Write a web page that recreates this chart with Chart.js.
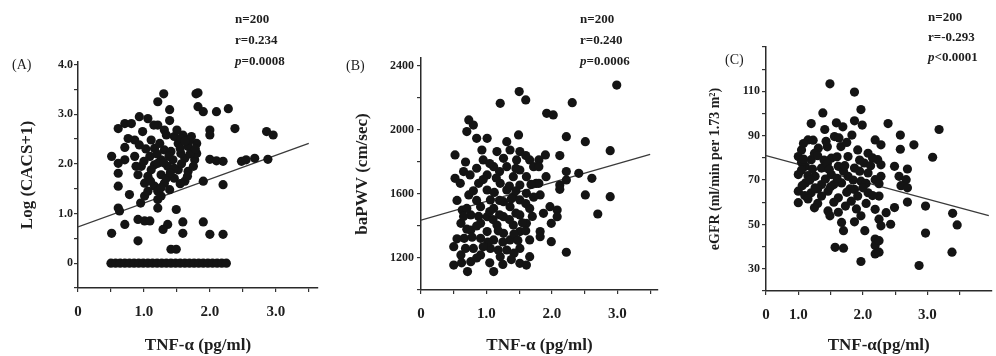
<!DOCTYPE html>
<html lang="en">
<head>
<meta charset="UTF-8">
<title>TNF-α correlations</title>
<script src="https://cdn.jsdelivr.net/npm/chart.js"></script>
<style>
    body { margin: 0; background: #fff; }
    #wrap { position: relative; width: 996px; height: 356px; overflow: hidden;
            font-family: 'Liberation Serif', 'DejaVu Serif', serif; color: #1e1e1e; }
    .panel { position: absolute; top: 0; }
    .stats { position: absolute; font-weight: bold; font-size: 13px; line-height: 21px; white-space: nowrap; }
    .tag { position: absolute; font-size: 14px; line-height: 16px; }
</style>
</head>
<body>
<div id="wrap">
    <canvas id="chartA" class="panel" style="left:0" width="332" height="356"></canvas>
    <canvas id="chartB" class="panel" style="left:332px" width="332" height="356"></canvas>
    <canvas id="chartC" class="panel" style="left:664px" width="332" height="356"></canvas>

    <div class="tag" style="left:12px; top:57px">(A)</div>
    <div class="tag" style="left:346px; top:58px">(B)</div>
    <div class="tag" style="left:725px; top:52px">(C)</div>

    <div class="stats" style="left:235px; top:8px">n=200<br>r=0.234<br><i>p</i>=0.0008</div>
    <div class="stats" style="left:580px; top:8px">n=200<br>r=0.240<br><i>p</i>=0.0006</div>
    <div class="stats" style="left:928px; top:7px; line-height:20px">n=200<br>r=-0.293<br><i>p</i>&lt;0.0001</div>
</div>

<script>
// (A) Log (CACS+1) vs TNF-alpha
const aX = [1.30,1.21,1.39,1.79,0.93,1.06,0.71,0.61,0.81,1.21,
    1.39,0.98,1.31,0.86,0.76,1.11,1.46,1.59,1.72,0.71,
    0.93,1.16,1.31,1.52,1.67,0.51,0.71,1.09,1.26,1.44,
    1.62,1.77,0.61,0.96,1.16,1.36,1.52,1.67,0.61,0.91,
    1.06,1.26,1.46,1.01,1.16,1.31,1.62,0.61,1.21,1.39,
    0.78,1.01,1.21,1.26,0.61,0.63,1.21,1.49,0.91,1.01,
    1.09,0.71,1.59,1.36,1.29,0.51,1.59,0.91,1.41,1.49,
    1.82,1.82,1.90,2.10,2.28,2.00,2.00,2.38,2.86,2.96,
    1.80,1.80,2.00,2.10,2.20,2.48,2.55,2.68,2.88,1.90,
    2.20,1.90,2.00,2.20,
    1.41,1.56,1.46,1.11,1.56,1.69,1.24,0.86,1.21,1.34,0.95,1.66,
    1.03,1.20,1.38,1.55,1.70,1.00,1.30,1.57,1.75,1.10,
    1.40,1.55,1.26,1.06,1.50,1.62,1.78,0.88,1.34,1.15,
    0.50,0.57,0.64,0.71,0.78,0.85,0.92,0.99,1.06,1.13,
    1.20,1.27,1.34,1.41,1.48,1.55,1.62,1.69,1.76,1.83,
    1.90,1.97,2.04,2.11,2.18,2.25];
const aY = [3.41,3.25,3.09,3.41,2.95,2.91,2.81,2.71,2.81,2.78,
    2.87,2.65,2.68,2.48,2.51,2.48,2.55,2.58,2.55,2.33,
    2.38,2.31,2.28,2.41,2.35,2.15,2.08,2.15,2.08,2.08,
    2.11,2.08,2.01,1.95,1.98,1.95,1.88,1.85,1.81,1.78,
    1.75,1.78,1.71,1.61,1.55,1.61,1.65,1.55,1.45,1.48,
    1.38,1.35,1.28,1.35,1.11,1.05,1.11,1.08,0.88,0.85,
    0.85,0.78,0.83,0.78,0.68,0.60,0.60,0.45,0.28,0.28,
    3.43,3.15,3.05,3.05,3.11,2.68,2.58,2.71,2.65,2.58,
    2.41,2.21,2.09,2.06,2.05,2.05,2.08,2.11,2.09,1.65,
    1.58,0.83,0.58,0.58,
    2.25,2.21,1.91,1.88,2.51,2.48,2.41,2.15,2.01,1.71,1.21,1.75,
    2.30,2.20,2.15,2.31,2.20,2.05,2.02,2.00,1.95,1.65,
    1.82,1.60,1.52,1.45,2.68,2.45,2.30,1.95,2.58,2.78,
    0,0,0,0,0,0,0,0,0,0,
    0,0,0,0,0,0,0,0,0,0,
    0,0,0,0,0,0];
const aFitX = [0, 3.5];
const aFitY = [0.73, 2.41];

// (B) baPWV vs TNF-alpha
const bX = [1.50,1.60,1.21,0.73,0.80,0.70,0.85,1.01,1.49,1.31,
    0.93,1.16,1.36,1.51,0.52,0.95,1.26,1.46,1.66,0.85,
    1.11,1.31,1.51,1.72,0.75,1.01,1.41,1.61,0.52,0.60,
    0.88,1.21,1.51,1.76,1.01,1.31,0.73,1.61,1.41,1.06,
    1.26,1.51,0.63,0.91,1.11,1.36,1.66,0.76,1.01,1.26,
    1.51,0.61,0.91,1.16,1.41,1.61,0.76,1.01,1.26,1.51,
    0.66,0.91,1.11,1.36,1.66,0.50,0.80,1.06,1.31,1.51,
    0.61,0.91,1.21,1.66,0.76,1.51,0.50,1.61,0.71,1.11,
    2.99,2.31,1.92,2.02,2.22,2.51,2.89,1.90,2.12,1.80,
    1.80,2.22,2.41,1.91,2.22,2.61,2.12,1.80,2.12,1.82,
    2.51,2.89,1.97,2.08,1.87,2.08,2.70,1.99,1.82,1.82,
    1.99,2.22,
    0.68,1.05,1.20,1.45,1.60,0.65,0.95,1.15,1.35,1.68,
    0.80,1.12,1.45,1.72,0.55,0.85,1.20,1.38,1.60,0.70,
    1.05,1.20,1.45,1.70,0.65,0.88,1.10,1.35,1.55,0.70,
    0.85,1.18,1.42,1.60,0.55,0.78,1.02,1.25,1.48,0.68,
    0.95,1.18,1.42,0.85,1.38,0.62,1.05,1.25];
const bY = [2240,2188,2167,2063,2031,1990,1948,1948,1969,1927,
    1875,1865,1875,1865,1844,1813,1823,1813,1813,1761,
    1771,1771,1750,1771,1719,1719,1708,1708,1698,1667,
    1667,1667,1656,1667,1625,1625,1594,1604,1583,1563,
    1552,1563,1500,1521,1510,1521,1510,1469,1458,1458,
    1469,1417,1417,1406,1406,1417,1375,1365,1354,1365,
    1323,1323,1313,1313,1313,1271,1260,1260,1250,1260,
    1219,1219,1208,1208,1177,1167,1156,1156,1115,1115,
    2281,2171,2104,2094,1958,1927,1871,1844,1840,1813,
    1771,1740,1729,1708,1688,1698,1656,1667,1629,1594,
    1594,1583,1521,1500,1479,1458,1475,1417,1365,1333,
    1302,1236,
    1800,1790,1740,1760,1840,1740,1690,1700,1650,1660,
    1620,1610,1620,1580,1560,1560,1560,1570,1540,1510,
    1490,1470,1480,1460,1460,1460,1440,1440,1420,1380,
    1400,1370,1350,1370,1320,1330,1300,1300,1310,1260,
    1270,1250,1230,1200,1190,1170,1170,1160];
const bFitX = [0, 3.5];
const bFitY = [1437, 1847];

// (C) eGFR vs TNF-alpha
const cX = [1.49,1.87,1.97,1.38,1.20,1.59,1.87,1.99,1.41,1.69,
    1.15,1.56,1.83,2.19,1.05,1.31,1.66,1.92,2.08,1.00,
    1.20,1.51,1.77,2.02,2.23,1.11,1.36,1.62,1.87,2.08,
    1.00,1.26,1.51,1.77,1.97,2.19,1.11,1.36,1.67,1.00,
    1.20,1.46,1.87,2.08,1.36,1.62,1.92,1.00,1.73,2.19,
    1.46,1.49,1.97,1.87,1.67,1.70,2.03,2.19,2.19,1.57,
    1.70,2.19,1.97,
    2.39,3.18,2.58,2.28,2.58,2.79,3.08,2.28,2.49,2.69,
    2.28,2.56,2.67,2.25,2.59,2.69,2.25,2.69,2.97,2.49,
    2.36,2.25,3.39,2.43,2.28,3.46,2.97,2.25,2.25,3.38,
    2.87,
    1.05,1.25,1.15,1.40,1.30,1.55,1.10,1.45,1.70,1.80,
    1.08,1.23,1.43,1.63,1.75,1.08,1.30,1.45,1.60,1.95,
    2.15,1.05,1.22,1.48,1.72,1.95,2.12,1.18,1.42,1.60,
    1.85,2.05,1.06,1.26,1.50,1.75,2.00,2.15,1.15,1.30,
    1.55,1.82,2.05,1.25,1.62,1.90];
const cY = [113.4,109.7,101.8,100.3,95.5,95.8,96.7,94.8,92.8,94.0,
    88.1,89.6,90.3,88.1,83.6,84.4,85.1,83.6,82.1,80.6,
    79.2,79.9,80.6,77.7,79.2,76.2,75.4,76.2,75.4,73.2,
    72.5,71.7,72.5,71.7,69.5,70.2,68.7,68.0,68.7,65.0,
    64.3,65.0,65.8,64.3,62.8,62.0,62.8,59.8,58.3,56.8,
    56.1,53.9,53.9,51.2,50.9,47.2,47.2,43.4,40.5,39.7,
    39.3,36.7,33.3,
    95.5,92.8,90.3,85.9,83.9,85.9,80.3,76.9,76.2,75.0,
    71.7,71.7,70.2,68.4,67.5,66.5,62.8,60.1,58.3,57.6,
    55.3,52.4,55.0,50.1,49.4,49.8,46.1,42.7,37.5,37.5,
    31.5,
    78.0,82.0,72.0,79.0,66.0,68.0,63.0,85.0,74.0,66.0,
    86.5,88.0,87.5,89.0,87.0,79.5,81.0,77.5,80.5,79.0,
    80.0,74.5,75.0,74.8,76.5,74.0,76.5,70.0,70.5,70.8,
    70.0,68.5,67.5,66.5,67.0,64.5,66.5,63.0,61.5,59.5,
    60.0,60.5,59.5,57.5,55.5,57.0];
const cFitX = [0.5, 3.95];
const cFitY = [81, 54];

// tick positions and their labels ('' = unlabelled tick mark)
const xTicks = [0, 0.5, 1, 1.5, 2, 2.5, 3, 3.5];
const xLabels = ['0', '', '1.0', '', '2.0', '', '3.0', ''];
const cXTicks = [0.5, 1, 1.5, 2, 2.5, 3, 3.5];
const cXLabels = ['0', '1.0', '', '2.0', '', '3.0', ''];
const aYTicks = [-0.5, 0, 0.5, 1, 1.5, 2, 2.5, 3, 3.5, 4];
const aYLabels = ['', '0', '', '1.0', '', '2.0', '', '3.0', '', '4.0'];
const bYTicks = [1000, 1200, 1400, 1600, 1800, 2000, 2200, 2400];
const bYLabels = ['', '1200', '', '1600', '', '2000', '', '2400'];
const cYTicks = [20, 30, 40, 50, 60, 70, 80, 90, 100, 110, 120, 130];
const cYLabels = ['', '30', '', '50', '', '70', '', '90', '', '110', '', ''];

const FONT = "'Liberation Serif', 'DejaVu Serif', serif";
const INK = '#1e1e1e';

function toPoints(xs, ys) {
    return xs.map((x, i) => ({ x: x, y: ys[i] }));
}

function makePanel(id, p) {
    new Chart(document.getElementById(id), {
        type: 'scatter',
        data: {
            datasets: [
                { data: toPoints(p.xs, p.ys), pointRadius: 4.6, backgroundColor: '#141414', borderWidth: 0 },
                { data: toPoints(p.fitX, p.fitY), showLine: true, borderColor: '#3a3a3a', borderWidth: 1.3, pointRadius: 0 }
            ]
        },
        options: {
            responsive: false,
            animation: false,
            devicePixelRatio: 1,
            layout: { padding: { top: p.top, right: p.right, left: 0, bottom: 0 } },
            plugins: { legend: { display: false }, tooltip: { enabled: false } },
            scales: {
                x: {
                    type: 'linear', min: p.xMin, max: p.xMax,
                    afterFit: s => { s.height = 356 - p.bottom; },
                    afterBuildTicks: s => { s.ticks = p.xTicks.map(v => ({ value: v })); },
                    ticks: {
                        autoSkip: false, maxRotation: 0, padding: 11, color: INK,
                        font: { family: FONT, size: 15, weight: 'bold' },
                        callback: (v, i) => p.xLabels[i]
                    },
                    grid: { drawOnChartArea: false, tickLength: 4, color: '#333', lineWidth: 1.2 },
                    border: { display: true, color: '#2a2a2a', width: 1.5 },
                    title: {
                        display: true, text: p.xTitle, color: INK,
                        font: { family: FONT, size: 17, weight: 'bold' },
                        padding: { top: 0, bottom: 0 }
                    }
                },
                y: {
                    type: 'linear', min: p.yMin, max: p.yMax,
                    afterFit: s => { s.width = p.left; },
                    afterBuildTicks: s => { s.ticks = p.yTicks.map(v => ({ value: v })); },
                    ticks: {
                        autoSkip: false, padding: p.yPad, color: INK,
                        font: { family: FONT, size: 12, weight: 'bold' },
                        callback: (v, i) => p.yLabels[i]
                    },
                    grid: { drawOnChartArea: false, tickLength: 4, color: '#333', lineWidth: 1.2 },
                    border: { display: true, color: '#2a2a2a', width: 1.5 },
                    title: {
                        display: true, text: p.yTitle, color: INK,
                        font: { family: FONT, size: p.yTitleSize, weight: 'bold' },
                        padding: { top: p.yTitlePad, bottom: 0 }
                    }
                }
            }
        }
    });
}

makePanel('chartA', {
    xs: aX, ys: aY, fitX: aFitX, fitY: aFitY,
    xMin: 0, xMax: 3.64, xTicks: xTicks, xLabels: xLabels,
    yMin: -0.5, yMax: 4.05, yTicks: aYTicks, yLabels: aYLabels,
    left: 78, right: 14, top: 62, bottom: 288, yPad: 1,
    xTitle: 'TNF-α (pg/ml)', yTitle: 'Log (CACS+1)', yTitleSize: 17, yTitlePad: 17
});

makePanel('chartB', {
    xs: bX, ys: bY, fitX: bFitX, fitY: bFitY,
    xMin: 0, xMax: 3.62, xTicks: xTicks, xLabels: xLabels,
    yMin: 1000, yMax: 2450, yTicks: bYTicks, yLabels: bYLabels,
    left: 89, right: 6, top: 58, bottom: 290, yPad: 3,
    xTitle: 'TNF-α (pg/ml)', yTitle: 'baPWV (cm/sec)', yTitleSize: 17, yTitlePad: 20
});

makePanel('chartC', {
    xs: cX, ys: cY, fitX: cFitX, fitY: cFitY,
    xMin: 0.5, xMax: 3.99, xTicks: cXTicks, xLabels: cXLabels,
    yMin: 20, yMax: 130, yTicks: cYTicks, yLabels: cYLabels,
    left: 102, right: 3, top: 47, bottom: 291, yPad: 2,
    xTitle: 'TNF-α(pg/ml)', yTitle: 'eGFR (ml/min per 1.73 m²)', yTitleSize: 14, yTitlePad: 43
});
</script>
</body>
</html>
